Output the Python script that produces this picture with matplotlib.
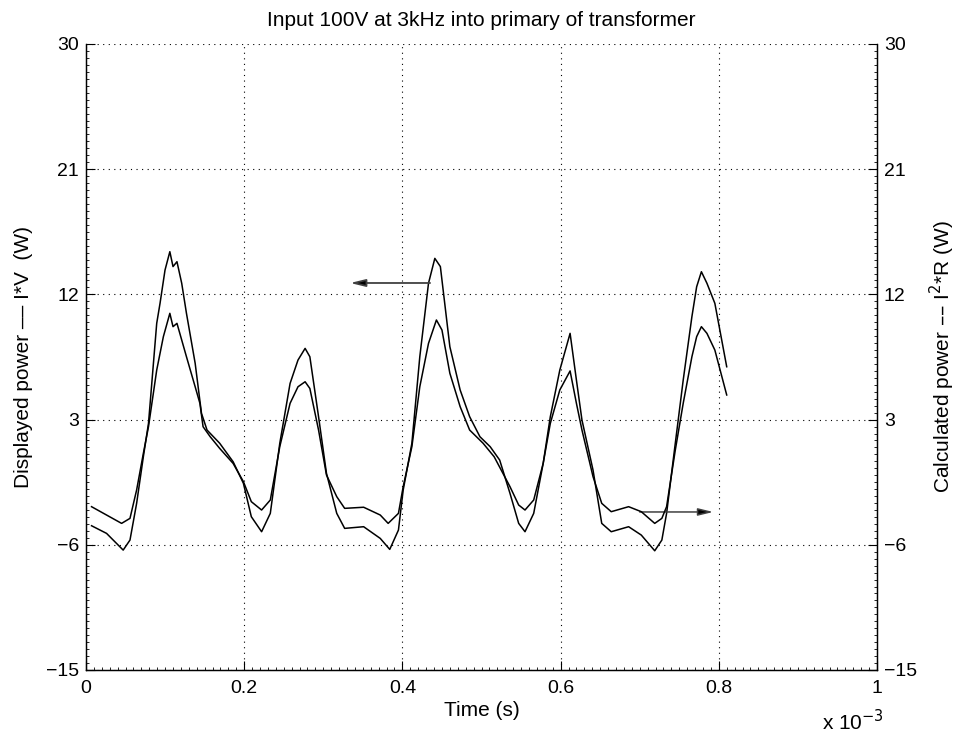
import matplotlib
matplotlib.use("Agg")
import matplotlib.pyplot as plt
from matplotlib.ticker import MultipleLocator, FixedLocator, FuncFormatter
import numpy as np

plt.rcParams['font.family'] = ['Liberation Sans', 'DejaVu Sans']

# time in ms, power in W
t_disp = [0.007, 0.026, 0.047, 0.0556, 0.064, 0.0725, 0.079, 0.0894, 0.0936, 0.0999, 0.106, 0.110,
          0.115, 0.121, 0.127, 0.138, 0.146, 0.153, 0.169, 0.186, 0.199, 0.209, 0.222, 0.233,
          0.245, 0.258, 0.268, 0.277, 0.283, 0.294, 0.304, 0.317, 0.327, 0.351, 0.372, 0.384,
          0.395, 0.401, 0.412, 0.422, 0.433, 0.441, 0.448, 0.460, 0.473, 0.485, 0.498, 0.511,
          0.523, 0.536, 0.547, 0.555, 0.566, 0.578, 0.587, 0.599, 0.612, 0.620, 0.627, 0.641,
          0.652, 0.664, 0.686, 0.702, 0.719, 0.728, 0.734, 0.745, 0.755, 0.766, 0.772, 0.778,
          0.785, 0.795, 0.810]
p_disp = [-4.63, -5.18, -6.38, -5.66, -3.02, 0.33, 2.73, 9.92, 11.36, 13.75, 15.07, 14.0,
          14.35, 12.8, 10.64, 7.05, 3.45, 2.25, 1.3, -0.03, -1.58, -3.98, -5.06, -3.74,
          1.3, 5.6, 7.28, 8.12, 7.52, 3.21, -0.86, -3.74, -4.82, -4.7, -5.54, -6.33,
          -4.94, -2.06, 1.3, 7.52, 12.8, 14.59, 14.0, 8.24, 5.13, 3.21, 1.77, 1.05,
          0.09, -2.3, -4.46, -5.06, -3.74, -0.14, 3.21, 6.56, 9.2, 5.84, 2.97, -0.63,
          -4.46, -5.06, -4.7, -5.3, -6.43, -5.66, -3.74, 1.3, 5.84, 10.4, 12.55, 13.63,
          12.8, 11.36, 6.8]

t_calc = [0.007, 0.026, 0.045, 0.0556, 0.064, 0.0725, 0.079, 0.0894, 0.0978, 0.106, 0.110, 0.115,
          0.121, 0.127, 0.138, 0.144, 0.148, 0.157, 0.169, 0.186, 0.199, 0.209, 0.222, 0.233,
          0.245, 0.258, 0.268, 0.277, 0.283, 0.294, 0.304, 0.317, 0.327, 0.351, 0.372, 0.382,
          0.395, 0.401, 0.412, 0.422, 0.433, 0.443, 0.450, 0.460, 0.473, 0.485, 0.502, 0.516,
          0.536, 0.547, 0.555, 0.566, 0.578, 0.587, 0.599, 0.612, 0.620, 0.627, 0.641, 0.652,
          0.664, 0.686, 0.702, 0.719, 0.728, 0.734, 0.745, 0.755, 0.766, 0.772, 0.778, 0.785,
          0.795, 0.810]
p_calc = [-3.26, -3.86, -4.46, -4.1, -2.06, 0.57, 2.49, 6.56, 8.96, 10.64, 9.68, 9.92,
          8.72, 7.52, 5.36, 4.17, 2.49, 1.77, 0.93, -0.15, -1.46, -2.9, -3.5, -2.78,
          1.06, 4.17, 5.36, 5.72, 5.24, 2.25, -0.98, -2.54, -3.38, -3.3, -3.86, -4.46,
          -3.74, -1.82, 1.06, 5.36, 8.48, 10.16, 9.44, 6.33, 3.93, 2.25, 1.3, 0.33,
          -1.82, -3.14, -3.5, -2.78, -0.14, 2.73, 5.13, 6.5, 4.17, 2.25, -1.1, -3.02,
          -3.62, -3.26, -3.62, -4.46, -4.1, -3.26, 0.81, 4.17, 7.52, 8.96, 9.68, 9.2,
          8.0, 4.77]

y_ticks = [-15, -6, 3, 12, 21, 30]
x_ticks_ms = [0, 0.2, 0.4, 0.6, 0.8, 1.0]

title = "Input 100V at 3kHz into primary of transformer"
xlabel = "Time (s)"
ylabel_left = "Displayed power \u2013\u2013 I*V  (W)"
ylabel_right = "Calculated power \u2013\u2013 I$^2$*R (W)"

fig = plt.figure(figsize=(9.58, 7.38), dpi=100)
ax = fig.add_axes([86/958, 68/738, (877-86)/958, (670-44)/738])
ax2 = ax.twinx()

ts_d = np.array(t_disp) * 1e-3
ts_c = np.array(t_calc) * 1e-3
ax.plot(ts_d, p_disp, color='black', lw=1.1)
ax2.plot(ts_c, p_calc, color='black', lw=1.1)

for a in (ax, ax2):
    a.set_xlim(0, 1e-3)
    a.set_ylim(-15, 30)
    a.yaxis.set_major_locator(FixedLocator(y_ticks))
    a.yaxis.set_minor_locator(MultipleLocator(0.5))
    a.spines['top'].set_visible(False)
    a.tick_params(which='major', direction='in', length=6.5, width=0.8, labelsize=14, color='black')
    a.tick_params(which='minor', direction='in', length=2.2, width=0.6)
    for s in a.spines.values():
        s.set_linewidth(0.9)

ax.xaxis.set_major_locator(FixedLocator([v * 1e-3 for v in x_ticks_ms]))
ax.xaxis.set_minor_locator(MultipleLocator(1e-5))
ax.xaxis.set_major_formatter(FuncFormatter(lambda v, p: ('%g' % (v * 1e3))))
ax.tick_params(axis='y', which='both', left=True, right=False)
ax.tick_params(axis='x', pad=7)
ax2.tick_params(axis='y', which='both', right=True, left=False)
ax.tick_params(axis='y', pad=5)
ax2.tick_params(axis='y', pad=5)

ax.grid(True, which='major', linestyle=(0, (1, 4)), color='black', lw=0.8)
ax.set_axisbelow(True)

ax.set_title(title, fontsize=15, pad=13)
ax.set_xlabel(xlabel, fontsize=15, labelpad=3)
ax.set_ylabel(ylabel_left, fontsize=15, labelpad=9)
ax2.set_ylabel(ylabel_right, fontsize=15, labelpad=8)

fig.text(822/958, 1 - 722/738, r'x 10$^{-3}$', fontsize=15, va='center', ha='left')

# arrows
ax.annotate('', xy=(0.334e-3, 12.82), xytext=(0.435e-3, 12.82),
            arrowprops=dict(arrowstyle='-|>,head_length=0.9,head_width=0.22', color='#404040',
                            lw=1.3, shrinkA=0, shrinkB=0, fc='black', ec='#404040'))
ax.annotate('', xy=(0.793e-3, -3.64), xytext=(0.700e-3, -3.64),
            arrowprops=dict(arrowstyle='-|>,head_length=0.9,head_width=0.22', color='#404040',
                            lw=1.1, shrinkA=0, shrinkB=0, fc='black', ec='#404040'))

fig.savefig('out.png', dpi=100)
